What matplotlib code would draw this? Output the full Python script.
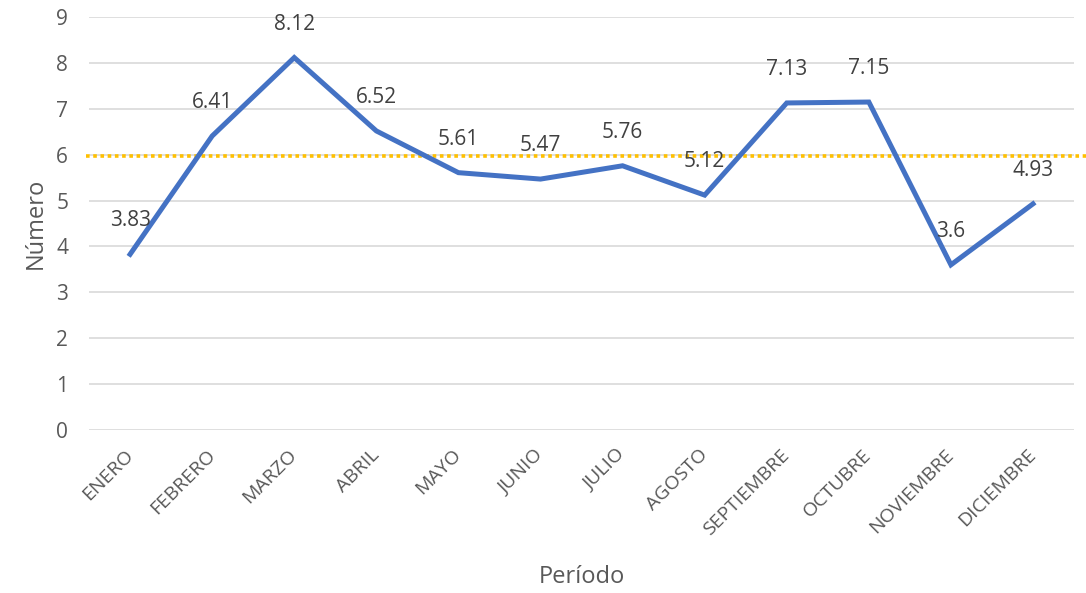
import matplotlib
matplotlib.use("Agg")
import matplotlib.pyplot as plt

# data
meses = ["ENERO", "FEBRERO", "MARZO", "ABRIL", "MAYO", "JUNIO", "JULIO",
         "AGOSTO", "SEPTIEMBRE", "OCTUBRE", "NOVIEMBRE", "DICIEMBRE"]
valores = [3.83, 6.41, 8.12, 6.52, 5.61, 5.47, 5.76, 5.12, 7.13, 7.15, 3.6, 4.93]
referencia = 5.97

plt.rcParams['font.family'] = ['Open Sans', 'DejaVu Sans']
gris = "#595959"

fig = plt.figure(figsize=(10.86, 5.93), dpi=100)
ax = fig.add_axes([0.082, 0.275, 0.907, 0.696])

x = list(range(len(meses)))
ax.plot(x, valores, color="#4472C4", linewidth=3.6, solid_joinstyle="miter", zorder=3)

for xi, v in zip(x, valores):
    ax.annotate("{:g}".format(v), (xi, v), xytext=(0, 24), textcoords="offset points",
                ha="center", va="center", fontsize=15, color="#404040", zorder=4)

# linea de referencia
ax.axhline(referencia, xmin=-0.003, xmax=1.02, color="#FFC000", linewidth=2.6,
           linestyle=(0, (1, 1)), clip_on=False, zorder=2)

ax.set_xlim(-0.5, len(meses) - 0.5)
ax.set_ylim(0, 9)
ax.set_yticks(range(0, 10))
ax.set_xticks(x)
ax.set_xticklabels(meses, rotation=45, ha="right", va="center", rotation_mode="anchor")
ax.tick_params(axis="x", length=0, pad=16, labelsize=14, labelcolor=gris)
ax.tick_params(axis="y", length=0, pad=15, labelsize=15, labelcolor=gris)

ax.grid(axis="y", color="#D9D9D9", linewidth=1.2)
ax.set_axisbelow(True)
for s in ax.spines.values():
    s.set_visible(False)

ax.set_xlabel("Período", fontsize=17, color=gris, labelpad=19)
ax.set_ylabel("Número", fontsize=17, color=gris, labelpad=6)

fig.savefig("out.png", dpi=100)
